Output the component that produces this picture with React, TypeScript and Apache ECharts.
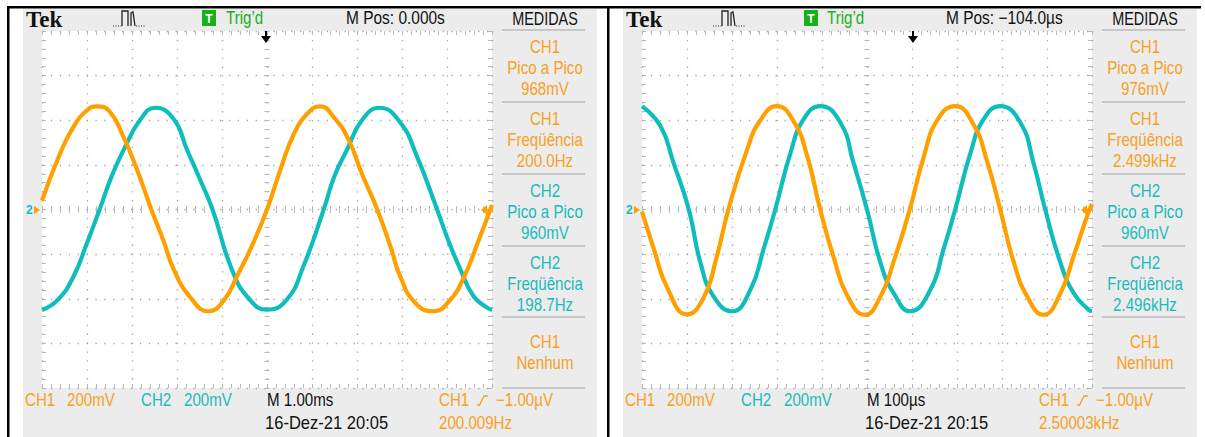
import React, { useEffect, useRef } from "react";
import * as echarts from "echarts";

// ---------- DATA (read from the two oscilloscope screens) ----------
// Left screen: 1.00 ms/div, 200 mV/div. Time = ms from screen centre, value = mV
const ch1LeftTime = [-5.0, -4.6, -4.3, -4.0, -3.78, -3.5, -3.2, -2.9, -2.57, -2.3, -2.07, -1.7, -1.3, -0.95, -0.67, -0.35, 0, 0.3, 0.59, 0.9, 1.18, 1.5, 1.81, 2.1, 2.45, 2.75, 2.96, 3.3, 3.7, 4.05, 4.37, 4.7, 5.0];
const ch1LeftMv = [40, 250, 370, 445, 462, 440, 330, 185, 0, -140, -270, -395, -456, -405, -300, -170, 0, 180, 335, 430, 462, 410, 314, 165, 0, -170, -300, -420, -456, -410, -306, -140, 20];
const ch2LeftTime = [-5.0, -4.65, -4.3, -4.0, -3.72, -3.45, -3.19, -2.81, -2.48, -2.07, -1.78, -1.5, -1.21, -0.78, -0.4, 0, 0.44, 0.81, 1.26, 1.5, 1.78, 2.11, 2.5, 2.96, 3.33, 3.78, 4.05, 4.3, 4.59, 4.89, 5.0];
const ch2LeftMv = [-450, -405, -300, -150, 0, 150, 265, 404, 456, 404, 269, 140, 0, -269, -400, -449, -404, -254, 0, 150, 269, 400, 456, 390, 239, 0, -150, -269, -389, -440, -450];

// Right screen: 100 us/div, 200 mV/div. Time = us from screen centre, value = mV
const ch1RightTime = [-500, -474, -444, -400, -363, -335, -308, -267, -237, -200, -163, -133, -104, -74, -44, -5, 30, 59, 95, 126, 156, 196, 237, 267, 296, 326, 356, 392, 430, 459, 489, 500];
const ch1RightMv = [-10, -175, -350, -470, -395, -220, 0, 265, 400, 463, 395, 240, 0, -215, -385, -472, -390, -235, 0, 235, 400, 463, 380, 215, 0, -235, -390, -472, -375, -210, -30, 25];
const ch2RightTime = [-500, -459, -430, -396, -370, -341, -300, -259, -230, -204, -170, -141, -104, -59, -30, 0, 30, 59, 96, 141, 170, 196, 230, 259, 296, 341, 370, 396, 430, 459, 492, 500];
const ch2RightMv = [463, 374, 209, 0, -239, -389, -456, -359, -179, 0, 254, 404, 463, 389, 209, 0, -239, -374, -456, -359, -179, 0, 254, 404, 463, 389, 209, 0, -239, -374, -449, -455];

// Axis ranges (screen: 10 x 8 divisions)
const xRangeLeft = [-5, 5, 1];
const xRangeRight = [-500, 500, 100];
const yRange = [-800, 800, 200];

// Texts
const mPosTexts = ["M Pos: 0.000s", "M Pos: \u2212104.0\u00b5s"];
const measLeft = [
  ["CH1", "Pico a Pico", "968mV"],
  ["CH1", "Freq\u00fc\u00eancia", "200.0Hz"],
  ["CH2", "Pico a Pico", "960mV"],
  ["CH2", "Freq\u00fc\u00eancia", "198.7Hz"],
  ["CH1", "Nenhum"],
];
const measRight = [
  ["CH1", "Pico a Pico", "976mV"],
  ["CH1", "Freq\u00fc\u00eancia", "2.499kHz"],
  ["CH2", "Pico a Pico", "960mV"],
  ["CH2", "Freq\u00fc\u00eancia", "2.496kHz"],
  ["CH1", "Nenhum"],
];
const timebaseTexts = ["M 1.00ms", "M 100\u00b5s"];
const dateTexts = ["16-Dez-21 20:05", "16-Dez-21 20:15"];
const trigFreqTexts = ["200.009Hz", "2.50003kHz"];
const trigLevelText = "\u22121.00\u00b5V";
const scaleText = "200mV";

// ---------- STYLE ----------
const ORANGE = "#FFA000";
const CYAN = "#10BDBD";
const ORANGE_T = "#F7A11E";
const CYAN_T = "#19BBBB";
const GREEN = "#16B116";
const GRAY_BG = "#ECECEC";
const FONT = '"Liberation Sans", Arial, sans-serif';

const PLOT_L = 42;
const PLOT_T = 31;
const PLOT_W = 450;
const PLOT_H = 357;

function txt(text: string, x: number, y: number, fill: string, align = "left", size = 18, sx = 0.84) {
  return {
    type: "text",
    x,
    y,
    scaleX: sx,
    z: 10,
    silent: true,
    style: { text, fill, font: `${size}px ${FONT}`, textAlign: align, textVerticalAlign: "middle" },
  };
}

function panelGraphics(dx: number, p: number) {
  const els: any[] = [];
  const meas = p === 0 ? measLeft : measRight;
  // gray panel + white screen
  els.push({ type: "rect", z: -10, silent: true, shape: { x: 23 + dx, y: 9, width: 574, height: 428 }, style: { fill: GRAY_BG } });
  els.push({ type: "rect", z: -9, silent: true, shape: { x: PLOT_L + dx, y: PLOT_T, width: PLOT_W, height: PLOT_H }, style: { fill: "#ffffff" } });
  // header
  els.push({ type: "text", x: 26 + dx, y: 19, z: 10, silent: true, style: { text: "Tek", fill: "#111", font: `bold 23px "Liberation Serif", "DejaVu Serif", serif`, textAlign: "left", textVerticalAlign: "middle" } });
  els.push({ type: "line", z: 10, silent: true, shape: { x1: 113 + dx, y1: 26, x2: 122 + dx, y2: 26 }, style: { stroke: "#222", lineWidth: 1.2, lineDash: [1, 1.5] } });
  els.push({ type: "polyline", z: 10, silent: true, shape: { points: [[122 + dx, 26], [122 + dx, 11], [128 + dx, 11], [128 + dx, 26]] }, style: { stroke: "#222", lineWidth: 1.3, fill: null } });
  els.push({ type: "polyline", z: 10, silent: true, shape: { points: [[131 + dx, 26], [131 + dx, 13], [133 + dx, 12], [135 + dx, 26]] }, style: { stroke: "#222", lineWidth: 1.3, fill: null } });
  els.push({ type: "line", z: 10, silent: true, shape: { x1: 136 + dx, y1: 26, x2: 145 + dx, y2: 26 }, style: { stroke: "#222", lineWidth: 1.2, lineDash: [1, 1.5] } });
  els.push({ type: "rect", z: 10, silent: true, shape: { x: 202 + dx + p * 2, y: 10, width: 14, height: 16 }, style: { fill: GREEN } });
  els.push({ type: "text", x: 209 + dx + p * 2, y: 18.5, z: 11, silent: true, style: { text: "T", fill: "#fff", font: `bold 12px ${FONT}`, textAlign: "center", textVerticalAlign: "middle" } });
  els.push(txt("Trig\u2019d", 226 + dx + p * 1, 18, GREEN, "left", 18, 0.84));
  els.push(txt(mPosTexts[p], 346 + dx, 18, "#111", "left", 18, 0.86));
  els.push(txt("MEDIDAS", 545 + dx, 18, "#111", "center", 18, 0.8));
  // measurement panel
  const tops = [30, 102, 174, 246, 317];
  [30, 102, 174, 246, 317, 388].forEach((y) => {
    els.push({ type: "line", z: 10, silent: true, shape: { x1: 502 + dx, y1: y, x2: 585 + dx, y2: y }, style: { stroke: "#BBBBBB", lineWidth: 1.5 } });
  });
  meas.forEach((blk, i) => {
    const col = blk[0] === "CH1" ? ORANGE_T : CYAN_T;
    const offs = blk.length === 3 ? [17.5, 38, 59] : [25, 46];
    blk.forEach((s, j) => els.push(txt(s, 545 + dx, tops[i] + offs[j], col, "center", 18, 0.84)));
  });
  // footer
  els.push(txt("CH1", 25 + dx, 400, ORANGE_T));
  els.push(txt(scaleText, 67 + dx, 400, ORANGE_T));
  els.push(txt("CH2", 141 + dx, 400, CYAN_T));
  els.push(txt(scaleText, 184 + dx, 400, CYAN_T));
  els.push(txt(timebaseTexts[p], 267 + dx, 400, "#111"));
  els.push(txt(dateTexts[p], 265 + dx, 423, "#111", "left", 18, 0.92));
  els.push(txt("CH1", 439 + dx, 400, ORANGE_T));
  els.push({ type: "polyline", z: 10, silent: true, shape: { points: [[477 + dx, 405], [479.5 + dx, 405], [484 + dx, 396], [488 + dx, 396]] }, style: { stroke: ORANGE_T, lineWidth: 1.3, fill: null } });
  els.push(txt(trigLevelText, 496 + dx, 400, ORANGE_T));
  els.push(txt(trigFreqTexts[p], 439 + dx, 423, ORANGE_T));
  // screen markers: ground markers at left edge
  els.push({ type: "text", x: 26 + dx, y: 210, z: 10, silent: true, style: { text: "2", fill: CYAN_T, font: `bold 12px ${FONT}`, textAlign: "left", textVerticalAlign: "middle" } });
  els.push({ type: "polygon", z: 10, silent: true, shape: { points: [[34 + dx, 206], [40 + dx, 210], [34 + dx, 214]] }, style: { fill: ORANGE } });
  // trigger level marker at right edge
  els.push({ type: "polygon", z: 10, silent: true, shape: { points: [[481 + dx, 210], [487 + dx, 205], [487 + dx, 215]] }, style: { fill: ORANGE } });
  els.push({ type: "line", z: 10, silent: true, shape: { x1: 486 + dx, y1: 210, x2: 492 + dx, y2: 210 }, style: { stroke: ORANGE, lineWidth: 2 } });
  // trigger position arrow
  const ax = p === 0 ? 266 : 913;
  els.push({ type: "line", z: 10, silent: true, shape: { x1: ax, y1: 31, x2: ax, y2: 37 }, style: { stroke: "#000", lineWidth: 2 } });
  els.push({ type: "polygon", z: 10, silent: true, shape: { points: [[ax - 5, 36], [ax + 5, 36], [ax, 43]] }, style: { fill: "#000" } });
  return els;
}

function frameGraphics() {
  const blk = { fill: "#000" };
  return [
    { type: "rect", z: 12, silent: true, shape: { x: 7, y: 6, width: 2.5, height: 431 }, style: blk },
    { type: "rect", z: 12, silent: true, shape: { x: 7, y: 6, width: 1194, height: 2.5 }, style: blk },
    { type: "rect", z: 12, silent: true, shape: { x: 607, y: 6, width: 2.5, height: 431 }, style: blk },
  ];
}

const tickStyle = { color: "#B8B8B8", width: 1 };
const dotStyle = { color: "#A6A6A6", width: 1.3, type: [1.3, 7.6] };

function axisBase(gi: number, r: number[]) {
  return {
    type: "value",
    gridIndex: gi,
    min: r[0],
    max: r[1],
    interval: r[2],
    axisLabel: { show: false },
    splitLine: { show: false },
    axisLine: { show: false, onZero: false },
    axisTick: { show: true, inside: true, length: 4, lineStyle: tickStyle },
    minorTick: { show: true, splitNumber: 5, length: 4, lineStyle: tickStyle },
  };
}

function xAxesFor(gi: number, r: number[]) {
  const b = axisBase(gi, r);
  return [
    { ...b, position: "bottom", splitLine: { show: true, lineStyle: dotStyle } },
    { ...b, position: "top" },
    { ...b, position: "bottom", axisLine: { show: false, onZero: true, onZeroAxisIndex: gi * 4 }, axisTick: { ...b.axisTick, inside: true, length: 3.5 }, minorTick: { ...b.minorTick, length: 3.5 } },
    { ...b, position: "bottom", axisLine: { show: false, onZero: true, onZeroAxisIndex: gi * 4 }, axisTick: { ...b.axisTick, inside: false, length: 3.5 }, minorTick: { ...b.minorTick, length: 3.5 } },
  ];
}

function yAxesFor(gi: number) {
  const b = axisBase(gi, yRange);
  return [
    { ...b, position: "left", splitLine: { show: true, lineStyle: dotStyle } },
    { ...b, position: "right" },
    { ...b, position: "left", axisLine: { show: false, onZero: true, onZeroAxisIndex: gi * 4 }, axisTick: { ...b.axisTick, inside: true, length: 2.5 }, minorTick: { ...b.minorTick, length: 2.5 } },
    { ...b, position: "left", axisLine: { show: false, onZero: true, onZeroAxisIndex: gi * 4 }, axisTick: { ...b.axisTick, inside: false, length: 2.5 }, minorTick: { ...b.minorTick, length: 2.5 } },
  ];
}

function trace(gi: number, name: string, t: number[], v: number[], color: string) {
  return {
    type: "line",
    name,
    xAxisIndex: gi * 4,
    yAxisIndex: gi * 4,
    data: t.map((x, i) => [x, v[i]]),
    smooth: 0.5,
    symbol: "none",
    showSymbol: false,
    clip: true,
    z: 3,
    lineStyle: { color, width: 4.2 },
    emphasis: { disabled: true },
  };
}

export default function App() {
  const ref = useRef<HTMLDivElement>(null);
  useEffect(() => {
    if (!ref.current) return;
    const chart = echarts.init(ref.current, null, { renderer: "svg" });
    const option: any = {
      animation: false,
      backgroundColor: "#ffffff",
      grid: [0, 600].map((dx) => ({ left: PLOT_L + dx, top: PLOT_T, width: PLOT_W, height: PLOT_H, show: false })),
      xAxis: [...xAxesFor(0, xRangeLeft), ...xAxesFor(1, xRangeRight)],
      yAxis: [...yAxesFor(0), ...yAxesFor(1)],
      series: [
        trace(0, "CH2", ch2LeftTime, ch2LeftMv, CYAN),
        trace(0, "CH1", ch1LeftTime, ch1LeftMv, ORANGE),
        trace(1, "CH2", ch2RightTime, ch2RightMv, CYAN),
        trace(1, "CH1", ch1RightTime, ch1RightMv, ORANGE),
      ],
      graphic: { elements: [...panelGraphics(0, 0), ...panelGraphics(600, 1), ...frameGraphics()] },
    };
    chart.setOption(option);
    return () => chart.dispose();
  }, []);
  return <div ref={ref} style={{ position: "absolute", left: 0, top: 0, width: 1205, height: 437 }} />;
}
